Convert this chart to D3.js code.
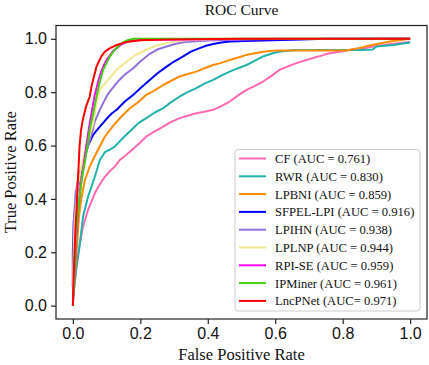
<!DOCTYPE html>
<html><head><meta charset="utf-8">
<script src="https://cdn.jsdelivr.net/npm/d3@7"></script>
<style>
html,body{margin:0;padding:0;background:#fff;}
svg{display:block;}
</style></head>
<body><svg id="c" width="429" height="365"></svg>
<script>
const names = ["CF","RWR","LPBNI","SFPEL-LPI","LPIHN","LPLNP","RPI-SE","IPMiner","LncPNet"];
const legendLabels = ["CF (AUC = 0.761)","RWR (AUC = 0.830)","LPBNI (AUC = 0.859)","SFPEL-LPI (AUC = 0.916)","LPIHN (AUC = 0.938)","LPLNP (AUC = 0.944)","RPI-SE (AUC = 0.959)","IPMiner (AUC = 0.961)","LncPNet (AUC= 0.971)"];
const colors = ["#ff69b4","#20b2aa","#ff8c00","#0000ff","#9370db","#f0e68c","#ff00ff","#44cc11","#ff0000"];
const ticks = [0.0,0.2,0.4,0.6,0.8,1.0];

const cfPts = [[0,0.02],[0.003,0.06],[0.011,0.146],[0.021,0.234],[0.03,0.296],[0.045,0.359],[0.065,0.421],[0.08,0.455],[0.095,0.483],[0.11,0.505],[0.125,0.522],[0.139,0.546],[0.155,0.562],[0.169,0.577],[0.19,0.6],[0.218,0.634],[0.245,0.655],[0.268,0.671],[0.29,0.688],[0.317,0.703],[0.34,0.712],[0.366,0.721],[0.39,0.727],[0.416,0.734],[0.44,0.748],[0.465,0.765],[0.49,0.788],[0.515,0.809],[0.54,0.824],[0.564,0.84],[0.59,0.862],[0.613,0.884],[0.64,0.898],[0.663,0.909],[0.69,0.92],[0.712,0.928],[0.74,0.938],[0.761,0.946],[0.79,0.952],[0.83,0.96],[0.86,0.964],[0.889,0.971],[0.93,0.978],[0.97,0.984],[1.0,0.988]];
const rwrPts = [[0,0.02],[0.005,0.08],[0.011,0.15],[0.021,0.234],[0.03,0.333],[0.045,0.408],[0.065,0.483],[0.08,0.546],[0.095,0.575],[0.11,0.585],[0.124,0.596],[0.15,0.63],[0.174,0.659],[0.195,0.685],[0.218,0.703],[0.243,0.724],[0.268,0.74],[0.29,0.762],[0.317,0.784],[0.34,0.8],[0.366,0.815],[0.39,0.832],[0.416,0.846],[0.44,0.862],[0.465,0.877],[0.49,0.89],[0.515,0.902],[0.54,0.918],[0.564,0.934],[0.59,0.945],[0.613,0.952],[0.64,0.956],[0.663,0.958],[0.75,0.958],[0.85,0.958],[0.889,0.96],[0.9,0.971],[0.95,0.977],[1.0,0.986]];
const lpbniPts = [[0,0.03],[0.005,0.1],[0.009,0.171],[0.014,0.258],[0.018,0.333],[0.026,0.408],[0.036,0.471],[0.05,0.521],[0.06,0.548],[0.075,0.585],[0.095,0.634],[0.12,0.675],[0.144,0.709],[0.169,0.74],[0.193,0.762],[0.218,0.79],[0.24,0.805],[0.268,0.827],[0.29,0.842],[0.317,0.859],[0.34,0.868],[0.366,0.877],[0.39,0.89],[0.416,0.902],[0.44,0.91],[0.465,0.921],[0.49,0.93],[0.515,0.94],[0.54,0.946],[0.564,0.952],[0.59,0.955],[0.613,0.956],[0.7,0.956],[0.81,0.956],[0.85,0.966],[0.88,0.975],[0.94,0.99],[1.0,1.0]];
const sfpelPts = [[0,0.07],[0,0.2],[0.003,0.32],[0.01,0.4],[0.02,0.48],[0.03,0.53],[0.045,0.6],[0.06,0.64],[0.08,0.671],[0.1,0.7],[0.115,0.72],[0.13,0.734],[0.154,0.765],[0.179,0.79],[0.2,0.815],[0.228,0.846],[0.25,0.87],[0.278,0.896],[0.3,0.915],[0.327,0.934],[0.35,0.952],[0.376,0.965],[0.395,0.974],[0.416,0.981],[0.44,0.986],[0.465,0.99],[0.51,0.992],[0.563,0.994],[0.65,0.997],[0.75,1.0],[1.0,1.0]];
const lpihnPts = [[0,0.07],[0.002,0.3],[0.008,0.42],[0.018,0.49],[0.03,0.53],[0.045,0.6],[0.055,0.64],[0.065,0.69],[0.075,0.72],[0.09,0.76],[0.105,0.795],[0.13,0.835],[0.145,0.855],[0.16,0.872],[0.179,0.89],[0.2,0.915],[0.228,0.944],[0.25,0.96],[0.278,0.971],[0.3,0.98],[0.33,0.988],[0.4,0.994],[0.6,1.0],[1.0,1.0]];
const lplnpPts = [[0,0.05],[0.005,0.3],[0.015,0.45],[0.03,0.55],[0.045,0.62],[0.06,0.68],[0.07,0.76],[0.08,0.81],[0.1,0.84],[0.115,0.862],[0.13,0.884],[0.15,0.905],[0.179,0.934],[0.2,0.948],[0.228,0.965],[0.25,0.975],[0.278,0.984],[0.3,0.99],[0.337,0.995],[0.45,0.999],[1.0,1.0]];
const rpisePts = [[0,0],[0.004,0.1],[0.01,0.25],[0.016,0.36],[0.024,0.46],[0.03,0.51],[0.04,0.6],[0.047,0.66],[0.055,0.72],[0.065,0.79],[0.075,0.84],[0.085,0.88],[0.095,0.91],[0.105,0.93],[0.12,0.955],[0.14,0.975],[0.16,0.99],[0.2,0.996],[0.4,0.998],[1.0,1.0]];
const ipminerPts = [[0,0],[0.003,0.08],[0.006,0.17],[0.01,0.28],[0.016,0.36],[0.024,0.45],[0.03,0.5],[0.036,0.54],[0.043,0.6],[0.05,0.659],[0.06,0.72],[0.07,0.784],[0.08,0.84],[0.09,0.884],[0.1,0.91],[0.11,0.934],[0.125,0.96],[0.139,0.977],[0.15,0.988],[0.164,0.996],[0.18,1.0],[1.0,1.0]];
const lncpnetPts = [[0,0],[0.002,0.1],[0.005,0.2],[0.008,0.3],[0.011,0.36],[0.014,0.45],[0.018,0.546],[0.02,0.6],[0.024,0.655],[0.03,0.7],[0.04,0.75],[0.05,0.784],[0.055,0.82],[0.06,0.846],[0.07,0.895],[0.075,0.91],[0.085,0.935],[0.095,0.952],[0.11,0.965],[0.13,0.977],[0.15,0.985],[0.169,0.99],[0.2,0.995],[0.3,0.998],[0.5,1.0],[1.0,1.0]];
const seriesPts = [cfPts,rwrPts,lpbniPts,sfpelPts,lpihnPts,lplnpPts,rpisePts,ipminerPts,lncpnetPts];

const W=429,H=365;
const m={left:56,right:2,top:25.5,bottom:46};
const svg=d3.select("#c");
const x=d3.scaleLinear().domain([-0.05,1.05]).range([m.left,W-m.right]);
const y=d3.scaleLinear().domain([-0.05,1.05]).range([H-m.bottom,m.top]);

const serif="'Liberation Serif','Times New Roman',serif";
const sans="'Liberation Sans',Arial,sans-serif";

const line=d3.line().x(d=>x(d[0])).y(d=>y(d[1]));
seriesPts.forEach((pts,i)=>{
  svg.append("path").attr("d",line(pts)).attr("fill","none")
    .attr("stroke",colors[i]).attr("stroke-width",2).attr("stroke-linejoin","round");
});

// frame
svg.append("rect").attr("x",m.left).attr("y",m.top)
  .attr("width",W-m.left-m.right).attr("height",H-m.top-m.bottom)
  .attr("fill","none").attr("stroke","#222").attr("stroke-width",1.2);

const fmt=d3.format(".1f");
const xa=svg.append("g").attr("transform",`translate(0,${H-m.bottom})`)
  .call(d3.axisBottom(x).tickValues(ticks).tickFormat(fmt).tickSize(5).tickPadding(4));
const ya=svg.append("g").attr("transform",`translate(${m.left},0)`)
  .call(d3.axisLeft(y).tickValues(ticks).tickFormat(fmt).tickSize(5).tickPadding(4));
[xa,ya].forEach(a=>{
  a.select(".domain").remove();
  a.selectAll("line").attr("stroke","#222").attr("stroke-width",1.2);
  a.selectAll("text").attr("font-family",sans).attr("font-size",16).attr("fill","#111");
});

svg.append("text").attr("x",(m.left+W-m.right)/2).attr("y",15).attr("text-anchor","middle")
  .attr("font-family",serif).attr("font-size",15.5).attr("fill","#111").text("ROC Curve");
svg.append("text").attr("x",(m.left+W-m.right)/2).attr("y",360).attr("text-anchor","middle")
  .attr("font-family",serif).attr("font-size",16.5).attr("fill","#111").text("False Positive Rate");
svg.append("text").attr("transform",`translate(16,${(m.top+H-m.bottom)/2}) rotate(-90)`)
  .attr("text-anchor","middle").attr("font-family",serif).attr("font-size",16.5).attr("fill","#111")
  .text("True Positive Rate");

// legend
const lg=svg.append("g");
lg.append("rect").attr("x",235).attr("y",149.5).attr("width",185).attr("height",161.5)
  .attr("rx",3).attr("fill","#fff").attr("fill-opacity",0.85).attr("stroke","#cccccc").attr("stroke-width",1);
legendLabels.forEach((t,i)=>{
  const yy=158.5+i*17.8;
  lg.append("line").attr("x1",239).attr("x2",266).attr("y1",yy).attr("y2",yy)
    .attr("stroke",colors[i]).attr("stroke-width",2);
  lg.append("text").attr("x",275).attr("y",yy).attr("dy","0.35em")
    .attr("font-family",serif).attr("font-size",12.6).attr("fill","#111").text(t);
});
</script></body></html>
